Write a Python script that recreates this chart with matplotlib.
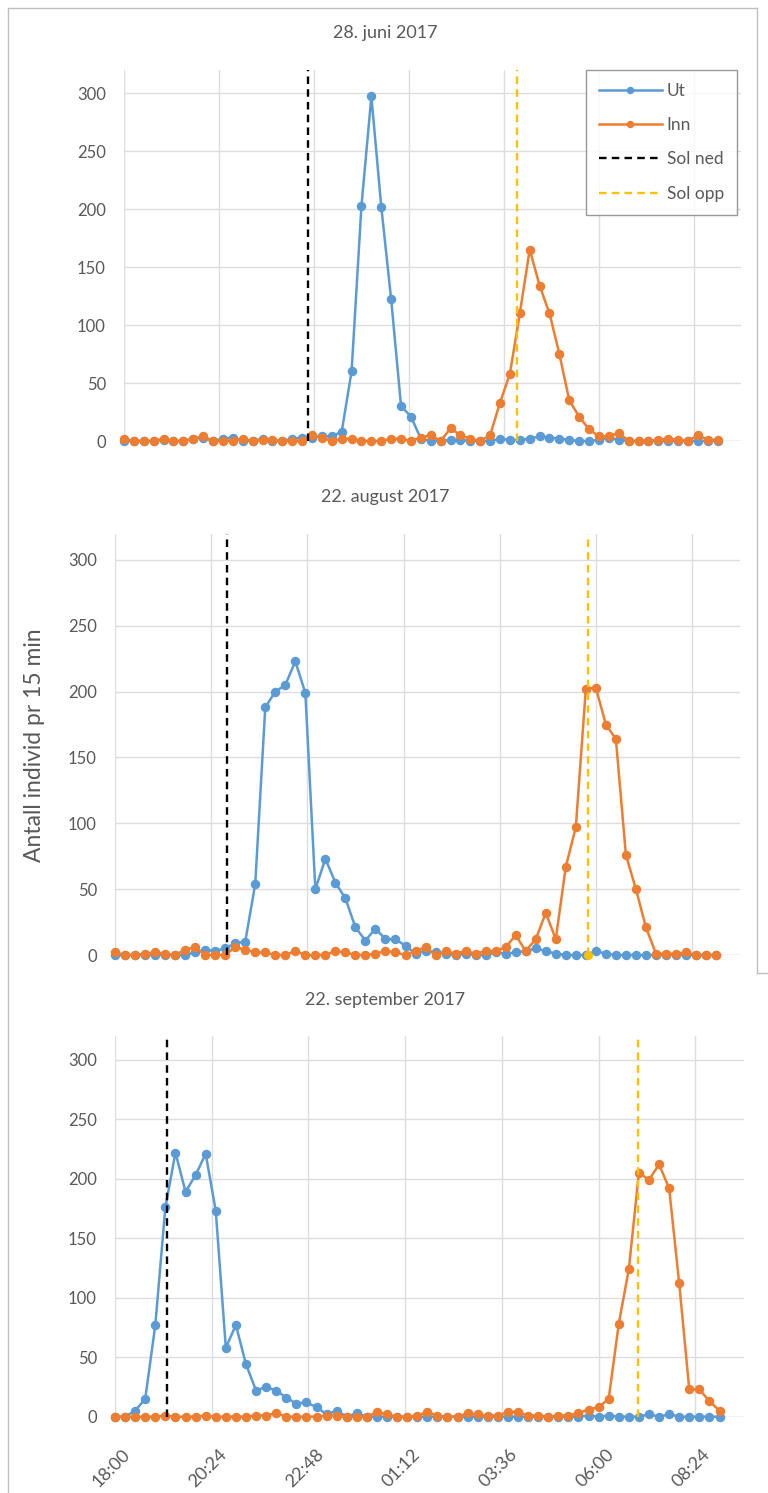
import numpy as np
import matplotlib
matplotlib.use("Agg")
import matplotlib.pyplot as plt
from matplotlib.lines import Line2D
from matplotlib.transforms import ScaledTranslation

plt.rcParams['font.family'] = ['Lato', 'DejaVu Sans']

# ---------------- data ----------------
titles = ["28. juni 2017", "22. august 2017", "22. september 2017"]
tick_labels = ["18:00", "20:24", "22:48", "01:12", "03:36", "06:00", "08:24"]
start_time = "18:00"
n_points = 61  # 15-min intervals from 18:00 to 09:00

ut_juni = [0, 0, 0, 0, 1, 0, 0, 2, 3, 0, 2, 3, 0, 0, 2, 0, 0, 2, 3, 3,
           4, 4, 8, 60, 203, 297, 202, 122, 30, 21, 2, 0, 0, 1, 1, 0, 0, 0, 2, 1,
           1, 2, 4, 3, 2, 1, 0, 0, 1, 3, 1, 0, 0, 0, 0, 0, 0, 0, 0, 0, 0]
inn_juni = [2, 0, 0, 0, 2, 0, 0, 2, 4, 0, 0, 0, 2, 0, 1, 1, 0, 0, 0, 5,
            3, 0, 2, 2, 0, 0, 0, 2, 2, 0, 3, 5, 0, 11, 5, 2, 0, 5, 33, 58,
            110, 165, 134, 110, 75, 35, 21, 10, 4, 4, 7, 0, 0, 0, 1, 2, 1, 0, 5, 1, 1]

ut_aug = [0, 0, 0, 0, 0, 0, 0, 0, 2, 4, 3, 5, 9, 10, 54, 188, 200, 205, 223, 199,
          50, 73, 55, 43, 21, 11, 20, 12, 12, 7, 1, 3, 2, 1, 0, 1, 0, 0, 2, 1,
          2, 3, 5, 3, 1, 0, 0, 0, 3, 1, 0, 0, 0, 0, 0, 0, 0, 0, 0, 0, 0]
inn_aug = [2, 0, 0, 1, 2, 1, 0, 4, 6, 0, 0, 0, 6, 4, 2, 2, 0, 0, 3, 0,
           0, 0, 3, 2, 0, 0, 1, 3, 2, 0, 3, 6, 0, 3, 1, 3, 1, 3, 3, 6,
           15, 3, 12, 32, 12, 67, 97, 202, 203, 175, 164, 76, 50, 21, 1, 1, 1, 2, 0, 0, 0]

ut_sep = [0, 0, 5, 15, 77, 176, 222, 189, 203, 221, 173, 58, 77, 44, 22, 25, 22, 16, 11, 12,
          8, 2, 5, 0, 3, 0, 0, 0, 0, 0, 0, 0, 0, 0, 0, 0, 0, 0, 0, 0,
          0, 0, 0, 0, 0, 0, 0, 1, 0, 1, 0, 0, 0, 2, 0, 2, 0, 0, 0, 0, 0]
inn_sep = [0, 0, 0, 0, 0, 1, 0, 0, 0, 1, 0, 0, 0, 0, 1, 1, 3, 0, 0, 0,
           0, 1, 1, 0, 0, 0, 4, 2, 0, 0, 1, 4, 1, 0, 0, 3, 2, 1, 1, 4,
           4, 1, 1, 0, 1, 1, 3, 6, 8, 15, 78, 124, 205, 199, 212, 192, 112, 23, 23, 13, 5]

sol_ned = ["22:39", "20:47", "19:17"]
sol_opp = ["03:55", "05:49", "06:59"]

ut_all = [ut_juni, ut_aug, ut_sep]
inn_all = [inn_juni, inn_aug, inn_sep]


def hours_since_start(s):
    h, m = map(int, s.split(":"))
    h0, m0 = map(int, start_time.split(":"))
    v = (h + m / 60) - (h0 + m0 / 60)
    return v + 24 if v < 0 else v


t = np.arange(n_points) * 0.25
tick_pos = [hours_since_start(s) for s in tick_labels]

# ---------------- style ----------------
W, H = 768, 1493
BLUE = "#5B9BD5"
ORANGE = "#ED7D31"
GOLD = "#FFC000"
GRID = "#DDDDDD"
TXT = "#595959"

fig = plt.figure(figsize=(W / 100, H / 100), dpi=100)

# axes boxes in pixels: (x_left, y_zero, px_per_hour, px_per_unit)
boxes = [(124, 441, 39.58, 1.16),
         (115, 955, 40.07, 1.317),
         (115, 1416.7, 40.3, 1.19)]
XMAX, YMAX = 15.6, 320
title_y = [33, 497, 1000]

axes = []
for k, (x0, y0, pph, ppu) in enumerate(boxes):
    wpx = XMAX * pph
    hpx = YMAX * ppu
    ax = fig.add_axes([x0 / W, 1 - y0 / H, wpx / W, hpx / H])
    ax.set_xlim(0, XMAX)
    ax.set_ylim(0, YMAX)
    ax.set_xticks(tick_pos)
    ax.set_yticks(np.arange(0, 301, 50))
    ax.grid(True, color=GRID, linewidth=1.0)
    ax.set_axisbelow(True)
    for s in ax.spines.values():
        s.set_visible(False)
    ax.axhline(0, color=GRID, linewidth=1.0, zorder=1)
    ax.tick_params(length=0, labelsize=12, labelcolor=TXT, pad=13)
    if k == 2:
        ax.set_xticklabels(tick_labels, rotation=45, ha='right',
                           rotation_mode='anchor')
        ax.tick_params(axis='x', pad=21, labelsize=13)
        shift = ScaledTranslation(0.07, 0, fig.dpi_scale_trans)
        for lab in ax.get_xticklabels():
            lab.set_transform(lab.get_transform() + shift)
    else:
        ax.set_xticklabels([])

    ln_ut, = ax.plot(t, ut_all[k], color=BLUE, lw=1.8, marker='o', ms=5.8,
                     label="Ut", zorder=3, clip_on=False)
    ln_inn, = ax.plot(t, inn_all[k], color=ORANGE, lw=1.8, marker='o', ms=5.8,
                      label="Inn", zorder=4, clip_on=False)
    xn = hours_since_start(sol_ned[k])
    xo = hours_since_start(sol_opp[k])
    ln_ned, = ax.plot([xn, xn], [0, YMAX], color='black', lw=1.7,
                      ls=(0, (3.2, 2.2)), label="Sol ned", zorder=5)
    ln_opp, = ax.plot([xo, xo], [0, YMAX], color=GOLD, lw=1.7,
                      ls=(0, (3.2, 2.2)), label="Sol opp", zorder=5)
    if k == 1:
        ax.plot([xo], [0], marker='o', ms=5.5, color=GOLD, zorder=6, clip_on=False)

    fig.text(385 / W, 1 - title_y[k] / H, titles[k], ha='center', va='center',
             fontsize=13, color=TXT)
    axes.append(ax)

    if k == 0:
        leg = ax.legend(handles=[ln_ut, ln_inn, ln_ned, ln_opp],
                        loc='upper right',
                        bbox_to_anchor=(737 / W, 1 - 70 / H),
                        bbox_transform=fig.transFigure, borderaxespad=0,
                        fontsize=12.5, frameon=True, fancybox=False,
                        edgecolor="#7F7F7F", handlelength=3.6,
                        labelspacing=1.05, borderpad=0.75, handletextpad=0.3,
                        markerscale=0.75, labelcolor=TXT)
        leg.get_frame().set_linewidth(1.0)

fig.text(35 / W, 1 - 745 / H, "Antall individ pr 15 min", rotation=90,
         ha='center', va='center', fontsize=16.5, color=TXT)

# panel borders (figure lines)
BORDER = "#BFBFBF"
def fline(xs, ys):
    fig.add_artist(Line2D([x / W for x in xs], [1 - y / H for y in ys],
                          color=BORDER, lw=1.0))

fline([8, 8], [8, 1493])
fline([8, 757], [8, 8])
fline([757, 757], [8, 973])
fline([757, 768], [973, 973])

fig.savefig("out.png", dpi=100)
